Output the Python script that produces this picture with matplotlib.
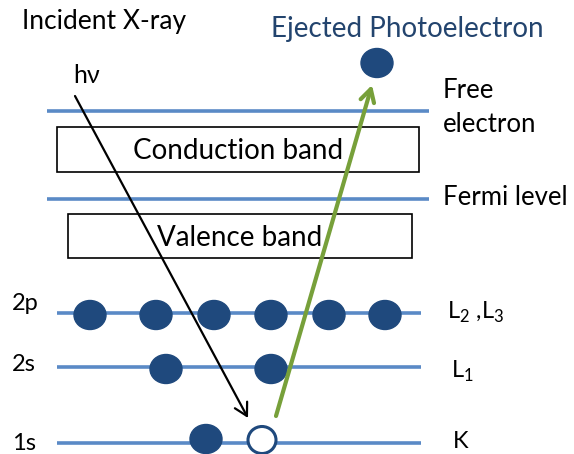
import matplotlib
matplotlib.use("Agg")
import matplotlib.pyplot as plt
from matplotlib.patches import Ellipse, Rectangle, FancyArrowPatch

plt.rcParams['font.family'] = ['Lato', 'DejaVu Sans']
plt.rcParams['mathtext.fontset'] = 'custom'
plt.rcParams['mathtext.rm'] = 'Lato'

# Data
level_names = ["Free electron", "Fermi level", "2p", "2s", "1s"]
level_y = [111, 199, 313, 367, 443]
shell_labels = ["2p", "2s", "1s"]
shell_y = [313, 367, 443]
shell_names = ["L$_{2}$ ,L$_{3}$", "L$_{1}$", "K"]
electrons_2p = [90, 156, 214, 271, 329, 385]
electrons_2s = [166, 271]
electrons_1s = [206]
hole_1s = [262]
ejected = (377, 63)
bands = ["Conduction band", "Valence band"]
band_boxes = [(57, 127, 362, 45), (68, 214, 344, 44)]

LINE_BLUE = "#5A8AC6"
E_BLUE = "#1F497D"
GREEN = "#77A03A"

fig = plt.figure(figsize=(5.74, 4.54), dpi=100)
ax = fig.add_axes([0, 0, 1, 1])
ax.set_xlim(0, 574)
ax.set_ylim(454, 0)
ax.axis('off')

# upper lines
for y in level_y[:2]:
    ax.plot([47, 429], [y, y], color=LINE_BLUE, lw=2.6, solid_capstyle='butt', zorder=1)
for y in shell_y:
    ax.plot([57, 421], [y, y], color=LINE_BLUE, lw=2.6, solid_capstyle='butt', zorder=1)

# band boxes
for (x, y, w, h), name, base in zip(band_boxes, bands, [159, 246]):
    ax.add_patch(Rectangle((x, y), w, h, fill=False, ec='black', lw=1.2, zorder=2))
    ax.text(x + w / 2, base, name, ha='center', va='baseline', fontsize=20, zorder=3)

# electrons
for xs, y in zip([electrons_2p, electrons_2s], shell_y[:2]):
    for x in xs:
        ax.add_patch(Ellipse((x, y + 2), 32, 29, color=E_BLUE, zorder=4))
for x in electrons_1s:
    ax.add_patch(Ellipse((x, shell_y[2] - 4), 32, 29, color=E_BLUE, zorder=4))
for x in hole_1s:
    ax.add_patch(Ellipse((x, shell_y[2] - 3), 28, 27, fc='white', ec=E_BLUE, lw=2.2, zorder=4))
ax.add_patch(Ellipse(ejected, 32, 29, color=E_BLUE, zorder=4))

# arrows
ax.add_patch(FancyArrowPatch((75, 96), (248, 418), arrowstyle='->,head_length=9,head_width=5',
                             color='black', lw=1.6, zorder=5, shrinkA=0, shrinkB=0))
ax.add_patch(FancyArrowPatch((276, 416), (372, 85), arrowstyle='->,head_length=9,head_width=5',
                             color=GREEN, lw=3.0, zorder=5, shrinkA=0, shrinkB=0))

# texts
ax.text(22, 29, "Incident X-ray", fontsize=19, ha='left', va='baseline')
ax.text(271, 37, "Ejected Photoelectron", fontsize=20, ha='left', va='baseline', color="#23446E")
ax.text(73, 83, "hν", fontsize=18, ha='left', va='baseline')
ax.text(443, 98, "Free", fontsize=18.5, ha='left', va='baseline')
ax.text(443, 132, "electron", fontsize=18.5, ha='left', va='baseline')
ax.text(443, 205, "Fermi level", fontsize=18.5, ha='left', va='baseline')
for lab, y in zip(shell_labels, [310, 371, 450]):
    ax.text(12, y, lab, fontsize=17, ha='left', va='baseline')
for name, x, y in zip(shell_names, [447, 451, 453], [319, 378, 448]):
    ax.text(x, y, name, fontsize=17, ha='left', va='baseline')

fig.savefig("out.png", dpi=100)
